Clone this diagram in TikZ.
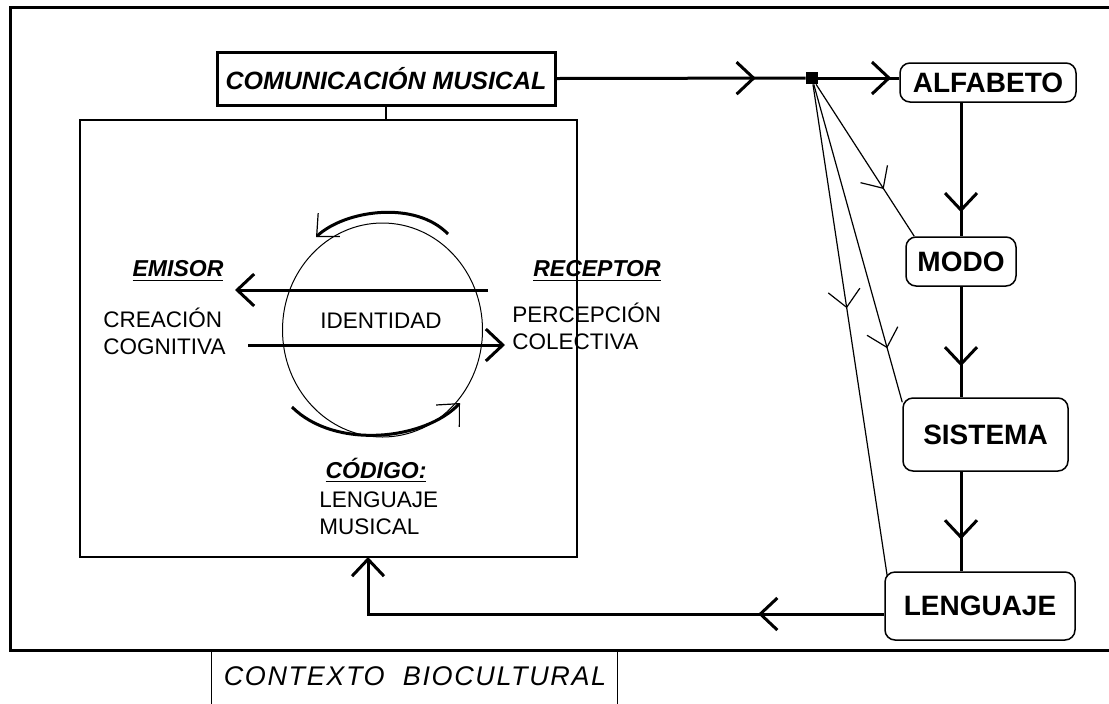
\documentclass[tikz,border=0pt]{standalone}
\usepackage{fontspec}
\setmainfont{Liberation Sans}
\newfontfamily\ctxfont[LetterSpace=6]{Liberation Sans}
\usetikzlibrary{arrows.meta, decorations.markings}

\begin{document}
\begin{tikzpicture}[x=0.5pt,y=-0.5pt,
% Boxes style
    title/.style={rectangle,draw,line width=1.5pt,inner sep=0pt,
		font=\fontsize{12.5}{15}\selectfont\bfseries\itshape},
    frame/.style={rectangle,draw,line width=1pt,inner sep=0pt},
    level/.style={rectangle,draw,rounded corners=5pt,line width=0.75pt,
		inner sep=0pt,font=\fontsize{14}{16}\selectfont\bfseries},
% Text style
    role/.style={inner sep=0pt,font=\fontsize{11.5}{13.5}\selectfont\bfseries\itshape},
    plain/.style={inner sep=0pt,align=left,font=\fontsize{11.25}{13.5}\selectfont},
% Connector style
    chev/.tip={Straight Barb[length=8.5pt,width=16pt]},
    thinchev/.tip={Straight Barb[length=8.5pt,width=16pt,line width=0.6pt]},
    link/.style={line width=1.5pt},
    thinlink/.style={line width=0.6pt},
    mid/.style={postaction={decorate},decoration={markings,
		mark=at position #1 with {\arrow{chev}}}}
    ]
   \useasboundingbox (0,0) rectangle (1109,703);
%% Outer frame and context
   \draw[line width=1.5pt] (1109,7) -| (10,650) -- (1109,650);
   \node[minimum width=202.5pt,minimum height=30pt,anchor=north,inner sep=0pt]
	(ctx) at (414.5,650) {};
   \draw[line width=0.8pt] (ctx.north west) -- (ctx.south west)
	(ctx.north east) -- (ctx.south east);
   \node[font=\ctxfont\fontsize{13.5}{16}\selectfont\itshape] (ctxt) at (415,676)
	{CONTEXTO\ \ BIOCULTURAL};
%% Main boxes
   \node[title,minimum width=169pt,minimum height=26.5pt] (com) at (386,78.5)
	{COMUNICACIÓN MUSICAL};
   \node[frame,minimum width=248.5pt,minimum height=218.5pt] (inner) at (328.5,338.5) {};
   \draw[line width=0.8pt] (com.south) -- (com.south |- inner.north);
   \node[fill,inner sep=0pt,minimum size=6pt] (junc) at (812,78) {};
   \node[level,minimum width=88pt,minimum height=19.5pt] (alf) at (988,82.5) {ALFABETO};
   \node[level,minimum width=55pt,minimum height=24.5pt] (modo) at (961,261.5) {MODO};
   \node[level,minimum width=82.5pt,minimum height=36.5pt] (sis) at (985.5,434.5) {SISTEMA};
   \node[level,minimum width=95pt,minimum height=34pt] (len) at (980,606) {LENGUAJE};
%% Communication circle
   \draw[line width=0.5pt] (382.5,330) ellipse [x radius=50pt,y radius=53.5pt];
   \node[plain] (ide) at (381,321) {IDENTIDAD};
   \node[role] (emi) at (178,271) {\underline{EMISOR}};
   \node[role] (rec) at (597,271) {\underline{RECEPTOR}};
   \node[role] (cod) at (376,470) {\underline{CÓDIGO:}};
   \node[plain,anchor=west] (crea) at (103,331) {CREACIÓN\\COGNITIVA};
   \node[plain,anchor=west] (perc) at (512,326) {PERCEPCIÓN\\COLECTIVA};
   \node[plain,anchor=west] (leng) at (319,513) {LENGUAJE\\MUSICAL};
   \coordinate (backr) at (488,290);
   \coordinate (backl) at (235,290);
   \coordinate (fwdl) at (248,345);
   \coordinate (fwdr) at (505,345);
   \draw[link,-{chev}] (backr) -- (backl);
   \draw[link,-{chev}] (fwdl) -- (fwdr);
   \draw[link,-{thinchev}] (448,234) .. controls (415,200) and (345,210) .. (316,237);
   \draw[link,-{thinchev}] (292,407) .. controls (335,450) and (425,440) .. (460,403);
%% Flow of levels
   \draw[link,mid=0.8] (com.east) -- (junc);
   \draw[link,mid=0.9] (junc) -- (junc -| alf.west);
   \draw[link,mid=0.82] (alf.south -| modo) -- (modo.north);
   \draw[link,mid=0.72] (modo.south) -- (modo.south |- sis.north);
   \draw[link,mid=0.68] (sis.south -| modo) -- (modo |- len.north);
   \draw[thinlink,mid=0.69] (junc) -- ([xshift=4.5pt]modo.north west);
   \draw[thinlink,mid=0.83] (junc) -- ([yshift=-2.5pt]sis.north west);
   \draw[thinlink,mid=0.455] (junc) -- ([xshift=1.5pt,yshift=-2.5pt]len.north west);
   \coordinate (codin) at (368,557);
   \draw[link,mid=0.22,-{chev}] ([yshift=-4pt]len.west) -| (codin);
\end{tikzpicture}
\end{document}
